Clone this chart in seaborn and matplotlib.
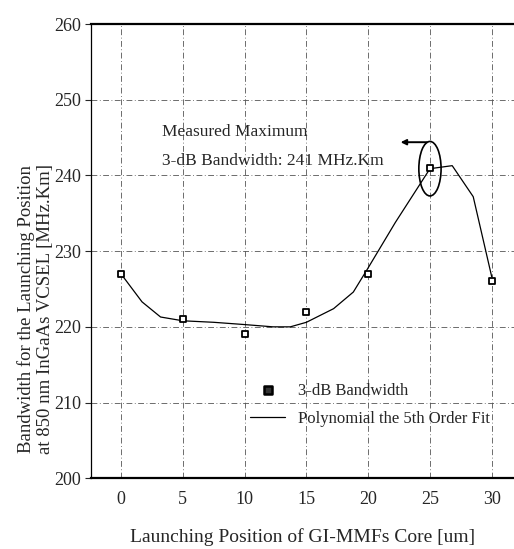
import matplotlib
matplotlib.use("Agg")
import matplotlib.pyplot as plt
import seaborn as sns
import pandas as pd
from matplotlib.patches import Ellipse

# measured data
positions = [0, 5, 10, 15, 20, 25, 30]
bandwidth = [227, 221, 219, 222, 227, 241, 226]

# fitted curve
fit_x = [0, 1.7, 3.2, 5, 7.5, 10, 12.3, 13.7, 15, 17.2, 18.8, 20, 22.2, 25, 26.8, 28.5, 30]
fit_y = [227, 223.3, 221.3, 220.8, 220.6, 220.3, 220.0, 220.0, 220.6, 222.4, 224.6, 227.8,
         233.8, 240.9, 241.3, 237.2, 226.6]

x_ticks = [0, 5, 10, 15, 20, 25, 30]
y_ticks = [200, 210, 220, 230, 240, 250, 260]

sns.set_theme(style="white")
plt.rcParams['font.family'] = ['Liberation Serif', 'DejaVu Serif']

fig = plt.figure(figsize=(5.14, 5.49), dpi=100)
ax = fig.add_axes([0.177, 0.129, 0.823, 0.827])

meas = pd.DataFrame({"x": positions, "y": bandwidth})
fit = pd.DataFrame({"x": fit_x, "y": fit_y})

sns.lineplot(data=fit, x="x", y="y", ax=ax, color="black", lw=0.9, sort=False,
             estimator=None, label="Polynomial the 5th Order Fit", zorder=3)
sns.scatterplot(data=meas, x="x", y="y", ax=ax, marker="s", s=24, facecolor="white",
                edgecolor="black", linewidth=1.3, label="3-dB Bandwidth", zorder=4)

ax.set_xlim(-2.43, 31.8)
ax.set_ylim(200, 260)
ax.set_xticks(x_ticks)
ax.set_yticks(y_ticks)
ax.tick_params(axis='both', labelsize=13, length=0, pad=9)
ax.tick_params(axis='y', length=4, direction='out', width=0.8, left=True, pad=3)
ax.grid(True, color="#555555", lw=0.6, ls=(0, (7, 3, 1, 3)))

for s in ["top", "bottom"]:
    ax.spines[s].set_linewidth(1.6)
    ax.spines[s].set_color("black")
ax.spines["left"].set_linewidth(0.9)
ax.spines["left"].set_color("black")
ax.spines["right"].set_visible(False)

ax.set_xlabel("Launching Position of GI-MMFs Core [um]", fontsize=14, labelpad=15)
ax.set_ylabel("Bandwidth for the Launching Position\nat 850 nm InGaAs VCSEL [MHz.Km]",
              fontsize=13.5, linespacing=1.15)
ax.yaxis.set_label_coords(-0.088, 0.372)

# annotation
ax.add_patch(Ellipse((25, 240.9), 1.8, 7.2, fill=False, ec="black", lw=1.2, zorder=5))
ax.annotate("", xy=(22.4, 244.4), xytext=(25, 244.4),
            arrowprops=dict(arrowstyle="-|>", color="black", lw=1.4, mutation_scale=8))
ax.text(3.3, 245.8, "Measured Maximum", fontsize=12.5, va="center", ha="left")
ax.text(3.3, 241.9, "3-dB Bandwidth: 241 MHz.Km", fontsize=12.5, va="center", ha="left")

h, l = ax.get_legend_handles_labels()
leg = ax.legend(h[::-1], l[::-1], loc="upper left", bbox_to_anchor=(0.376, 0.21),
                frameon=False, fontsize=12, handlelength=2.1, labelspacing=0.7,
                borderaxespad=0, borderpad=0, handletextpad=0.8, markerscale=1.2)
leg.legend_handles[0].set_facecolor("#333333")
leg.legend_handles[0].set_linewidth(1.8)

fig.savefig("out.png", dpi=100)
